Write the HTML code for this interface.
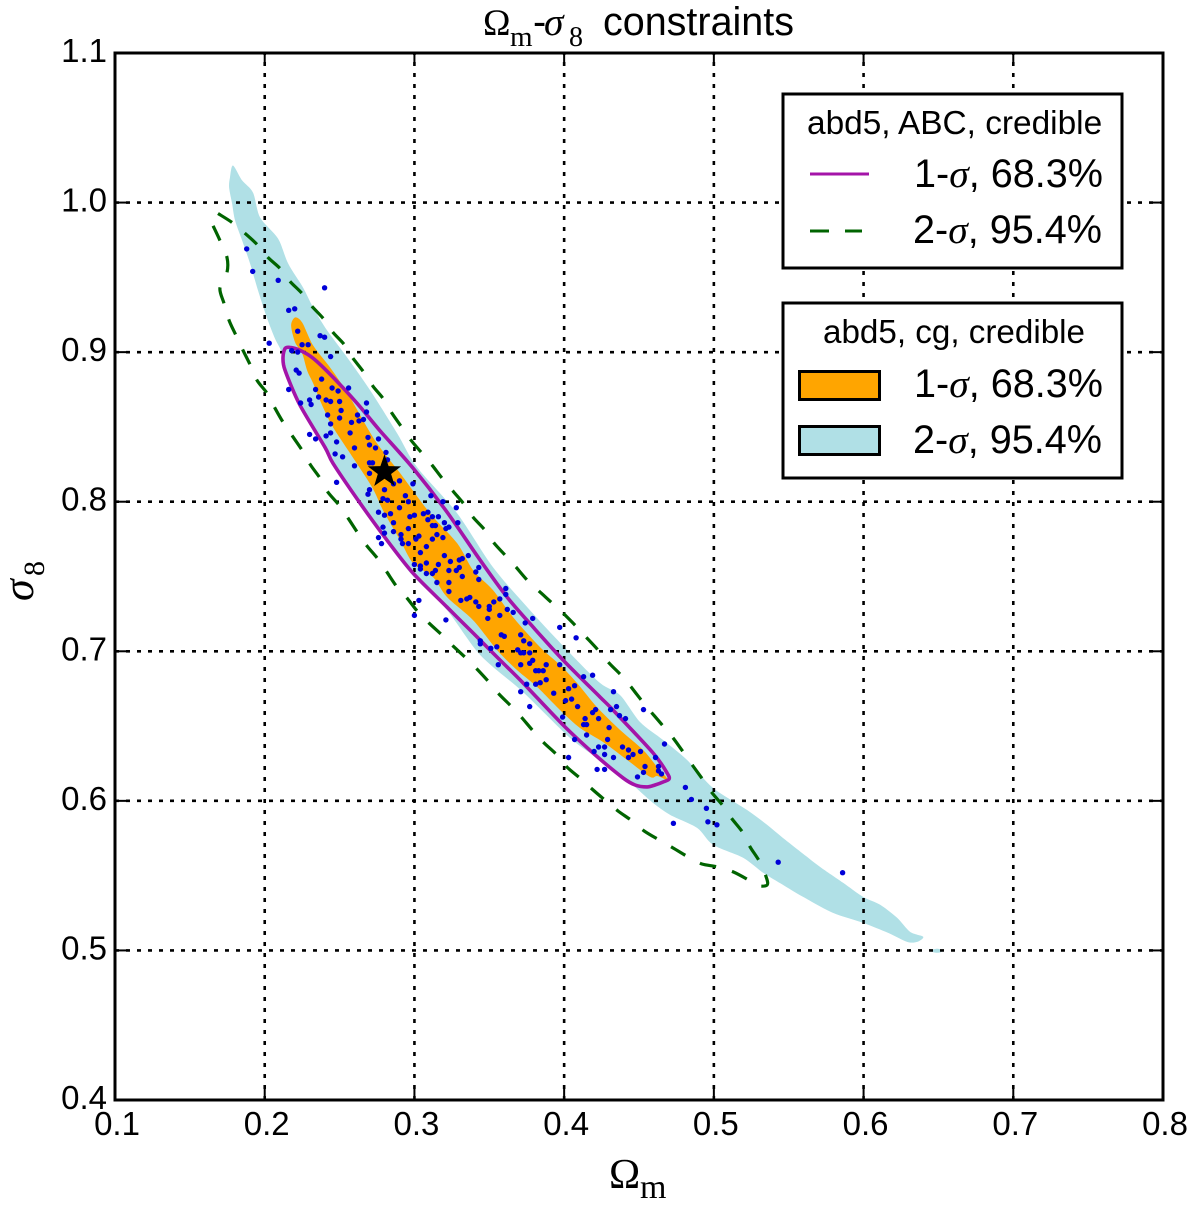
<!DOCTYPE html>
<html lang="en">
<head>
<meta charset="utf-8">
<title>Omega_m - sigma_8 constraints</title>
<style>
html,body{margin:0;padding:0;background:#fff;}
svg{display:block;}
text{font-family:"Liberation Sans",Arial,sans-serif;fill:#000;}
.math{font-family:"Liberation Serif",serif;}
.sig{font-family:"Liberation Serif",serif;font-style:italic;}
</style>
</head>
<body>
<svg id="chart" xmlns="http://www.w3.org/2000/svg" width="1200" height="1206" viewBox="0 0 1200 1206">
  <rect x="0" y="0" width="1200" height="1206" fill="#fff"/>
  <g id="marks"></g>
  <rect x="115" y="53" width="1048" height="1047" fill="none" stroke="#000" stroke-width="3"/>
  <g id="axes"></g>

  <text y="35" font-size="39.5"><tspan class="math" x="483" font-size="37">Ω</tspan><tspan class="math" x="510" y="46" font-size="29">m</tspan><tspan x="533" y="35">-</tspan><tspan class="sig" x="544" y="35">σ</tspan><tspan class="math" x="569" y="46" font-size="28">8</tspan><tspan x="603" y="35">constraints</tspan></text>
  <text y="1188" font-size="42"><tspan class="math" x="609">Ω</tspan><tspan class="math" x="640" y="1198" font-size="34">m</tspan></text>
  <text transform="translate(33 601) rotate(-90)" font-size="44"><tspan class="sig" x="0" y="0">σ</tspan><tspan class="math" x="25" y="11" font-size="30">8</tspan></text>

  <g>
    <rect x="783" y="94" width="339" height="174" fill="#fff" stroke="#000" stroke-width="3"/>
    <text x="807" y="134" font-size="33.4">abd5, ABC, credible</text>
    <line x1="810" y1="174" x2="869" y2="174" stroke="#a414a8" stroke-width="3"/>
    <text x="914" y="187" font-size="39.6">1-<tspan class="sig">σ</tspan>, 68.3%</text>
    <line x1="810" y1="231" x2="862" y2="231" stroke="#006400" stroke-width="3" stroke-dasharray="19 16"/>
    <text x="913" y="243" font-size="39.6">2-<tspan class="sig">σ</tspan>, 95.4%</text>
  </g>
  <g>
    <rect x="783" y="303" width="339" height="175" fill="#fff" stroke="#000" stroke-width="3"/>
    <text x="823" y="343" font-size="33.2">abd5, cg, credible</text>
    <rect x="799.5" y="371.5" width="80" height="28" fill="#ffa500" stroke="#000" stroke-width="3"/>
    <text x="914" y="397" font-size="39.6">1-<tspan class="sig">σ</tspan>, 68.3%</text>
    <rect x="799.5" y="426.5" width="80" height="28" fill="#b0e0e6" stroke="#000" stroke-width="3"/>
    <text x="913" y="453" font-size="39.6">2-<tspan class="sig">σ</tspan>, 95.4%</text>
  </g>
</svg>
<script>
const xTicks = [0.1,0.2,0.3,0.4,0.5,0.6,0.7,0.8];
const yTicks = [0.4,0.5,0.6,0.7,0.8,0.9,1.0,1.1];
const fiducial = [0.28,0.82];

const cg2SigmaContour = [[.1788,1.0248],[.1849,1.0148],[.1922,1.0067],[.1969,.99],[.2089,.976],[.2156,.9593],[.2256,.9432],[.2323,.9299],[.2416,.9146],[.255,.8965],[.2704,.8745],[.2884,.8458],[.3018,.823],[.3285,.7923],[.3525,.7562],[.3772,.7275],[.402,.7008],[.424,.6788],[.4374,.6707],[.4507,.6527],[.4661,.6407],[.4821,.6273],[.4995,.6086],[.5222,.5939],[.5356,.5839],[.5462,.5752],[.5623,.5625],[.571,.5558],[.5863,.5452],[.5997,.5358],[.6111,.5305],[.6224,.5218],[.6311,.5124],[.6398,.5091],[.6358,.5057],[.6291,.5057],[.6164,.5117],[.5997,.5184],[.5796,.5251],[.5596,.5358],[.5462,.5438],[.5329,.5519],[.5195,.5619],[.4995,.5706],[.4888,.5819],[.4708,.5906],[.4594,.5986],[.4441,.612],[.424,.6273],[.404,.642],[.3726,.6727],[.3439,.6975],[.3218,.7275],[.2991,.7502],[.2817,.7723],[.2637,.7977],[.2456,.8244],[.2329,.8478],[.2236,.8631],[.217,.8792],[.2116,.8992],[.2068,.9092],[.2014,.9232],[.1955,.9413],[.1902,.9593],[.1849,.9747],[.1802,.988],[.1782,.9994],[.1762,1.0101],[.1768,1.0168]];
const cg2SigmaIsland = [[.6444,.4998],[.6491,.5011],[.6538,.4998],[.6491,.4984]];
const cg1SigmaContour = [[.2203,.9232],[.225,.9199],[.2323,.9045],[.2436,.8898],[.255,.8731],[.2736,.8411],[.2904,.8191],[.3104,.7923],[.3285,.7723],[.3392,.7542],[.3525,.7409],[.3659,.7228],[.3839,.7028],[.3973,.6908],[.4086,.6788],[.4219,.6627],[.4374,.6474],[.4527,.6341],[.4621,.6227],[.4694,.6141],[.4621,.6166],[.4574,.616],[.4421,.6273],[.4261,.6393],[.4106,.6487],[.3973,.6607],[.382,.6761],[.3686,.6874],[.3552,.7008],[.3392,.7208],[.3218,.7362],[.3124,.7496],[.2991,.7589],[.2904,.7743],[.279,.7943],[.2717,.8097],[.257,.8324],[.2456,.8498],[.2389,.8632],[.2323,.8792],[.2283,.8878],[.225,.8992],[.2203,.9065],[.2176,.9179]];
const abc1SigmaContour = [[.2169,.9032],[.2236,.9012],[.2323,.8959],[.2456,.8832],[.2617,.8658],[.2768,.8477],[.2991,.8224],[.3218,.793],[.3439,.7609],[.3619,.7362],[.3793,.7161],[.3993,.6941],[.424,.6694],[.4327,.6607],[.4594,.632],[.4688,.6186],[.4701,.6146],[.4661,.6126],[.4607,.6106],[.4554,.6093],[.4474,.6106],[.4394,.6153],[.4193,.632],[.3993,.6507],[.3726,.6788],[.3572,.6941],[.3392,.7122],[.3218,.7295],[.2991,.7522],[.2817,.7743],[.2637,.799],[.2456,.8257],[.2403,.8364],[.2236,.8645],[.2136,.8878],[.2122,.8965],[.2136,.9025]];
const abc2SigmaContour = [[.1688,.9927],[.1782,.9867],[.1869,.9794],[.1949,.972],[.2022,.9633],[.2102,.956],[.2169,.9473],[.2249,.9393],[.2316,.9306],[.239,.9226],[.2456,.9132],[.253,.9052],[.259,.8959],[.2657,.8872],[.2724,.8771],[.279,.8691],[.285,.8591],[.2911,.8504],[.2977,.8411],[.3051,.8324],[.3118,.8244],[.3185,.8157],[.3258,.807],[.3332,.7983],[.3392,.7896],[.3472,.7809],[.3532,.7723],[.3612,.7636],[.3679,.7562],[.3759,.7469],[.3833,.7402],[.392,.7322],[.3993,.7255],[.4086,.7161],[.4153,.7088],[.4227,.7008],[.43,.6921],[.438,.6841],[.4447,.6761],[.4521,.6667],[.4587,.6587],[.4661,.65],[.4728,.642],[.4795,.6327],[.4861,.6233],[.4928,.614],[.4988,.6053],[.5062,.5966],[.5122,.5879],[.5195,.5786],[.5242,.5692],[.5302,.5599],[.5349,.5492],[.5356,.5438],[.5296,.5432],[.5229,.5472],[.5129,.5525],[.5028,.5558],[.4921,.5578],[.4828,.5625],[.4728,.5685],[.4634,.5739],[.4534,.5799],[.4454,.5866],[.436,.5932],[.428,.5999],[.4186,.6079],[.4113,.6146],[.4019,.6226],[.3953,.6306],[.3866,.6387],[.3799,.646],[.3719,.6554],[.3652,.6627],[.3565,.6714],[.3498,.6794],[.3418,.6881],[.3345,.6954],[.3258,.7035],[.3185,.7108],[.3098,.7188],[.3024,.7262],[.2951,.7355],[.2884,.7429],[.2817,.7529],[.2757,.7616],[.2684,.7703],[.2623,.7789],[.2557,.789],[.2497,.7977],[.2423,.8063],[.237,.8157],[.2303,.825],[.225,.8344],[.219,.8431],[.2123,.8531],[.2069,.8625],[.2016,.8725],[.1949,.8811],[.1902,.8918],[.1855,.9012],[.1808,.9112],[.1762,.9212],[.1728,.9326],[.1701,.9426],[.1748,.9533],[.1748,.9633],[.1701,.9747],[.1655,.9845]];
const samples = [[.188,.969],[.192,.954],[.209,.948],[.240,.943],[.216,.928],[.220,.929],[.222,.914],[.237,.911],[.240,.910],[.203,.906],[.225,.905],[.229,.905],[.218,.901],[.222,.900],[.244,.897],[.221,.888],[.223,.886],[.238,.882],[.216,.875],[.234,.875],[.245,.876],[.249,.874],[.256,.876],[.236,.870],[.230,.868],[.231,.865],[.224,.866],[.241,.868],[.244,.867],[.250,.867],[.268,.866],[.251,.861],[.242,.858],[.262,.858],[.268,.860],[.250,.856],[.266,.855],[.263,.854],[.258,.853],[.244,.852],[.230,.845],[.234,.842],[.241,.844],[.244,.846],[.257,.846],[.269,.843],[.276,.842],[.248,.840],[.270,.838],[.274,.836],[.260,.836],[.247,.832],[.252,.830],[.260,.824],[.270,.826],[.272,.826],[.281,.833],[.282,.828],[.270,.819],[.290,.814],[.248,.813],[.299,.812],[.286,.812],[.280,.808],[.270,.808],[.269,.805],[.294,.804],[.311,.804],[.279,.802],[.282,.801],[.296,.800],[.319,.800],[.290,.796],[.328,.796],[.276,.793],[.280,.791],[.284,.792],[.297,.790],[.300,.791],[.306,.792],[.309,.793],[.309,.788],[.312,.790],[.316,.790],[.329,.786],[.320,.786],[.323,.783],[.321,.782],[.314,.784],[.312,.784],[.286,.786],[.279,.783],[.296,.782],[.286,.780],[.280,.779],[.276,.776],[.278,.772],[.291,.778],[.291,.775],[.303,.777],[.301,.775],[.315,.778],[.312,.775],[.319,.776],[.296,.772],[.292,.772],[.308,.770],[.304,.766],[.320,.764],[.336,.764],[.332,.762],[.330,.761],[.324,.760],[.316,.758],[.330,.756],[.308,.759],[.300,.758],[.304,.757],[.304,.755],[.343,.756],[.341,.753],[.328,.754],[.323,.754],[.314,.754],[.308,.752],[.312,.752],[.332,.750],[.343,.748],[.315,.746],[.323,.746],[.323,.740],[.361,.742],[.361,.738],[.357,.735],[.337,.736],[.335,.735],[.331,.734],[.341,.733],[.303,.734],[.353,.733],[.343,.730],[.350,.730],[.350,.728],[.362,.728],[.366,.726],[.357,.724],[.300,.724],[.349,.722],[.321,.721],[.379,.722],[.374,.719],[.397,.716],[.358,.711],[.360,.710],[.371,.711],[.408,.709],[.373,.707],[.377,.705],[.344,.707],[.344,.705],[.369,.701],[.371,.699],[.373,.699],[.377,.699],[.351,.702],[.355,.703],[.379,.694],[.377,.692],[.371,.691],[.388,.691],[.356,.691],[.397,.691],[.381,.687],[.383,.687],[.386,.687],[.413,.683],[.419,.684],[.388,.681],[.384,.679],[.381,.678],[.375,.678],[.407,.677],[.403,.675],[.393,.672],[.371,.673],[.433,.673],[.405,.668],[.401,.667],[.409,.663],[.453,.661],[.377,.663],[.431,.661],[.435,.663],[.437,.657],[.441,.655],[.421,.661],[.419,.659],[.423,.655],[.399,.656],[.414,.655],[.413,.651],[.415,.651],[.430,.649],[.415,.644],[.407,.641],[.429,.641],[.467,.638],[.439,.636],[.423,.636],[.427,.636],[.420,.633],[.443,.634],[.451,.633],[.446,.631],[.427,.631],[.443,.629],[.403,.629],[.433,.629],[.461,.629],[.463,.623],[.454,.623],[.422,.621],[.427,.621],[.463,.620],[.465,.618],[.453,.619],[.449,.616],[.481,.609],[.485,.601],[.495,.595],[.496,.586],[.502,.584],[.473,.585],[.543,.559],[.586,.552]];

const NS = 'http://www.w3.org/2000/svg';
const X_MIN = 0.1, X_MAX = 0.8, Y_MIN = 0.4, Y_MAX = 1.1;
const LEFT = 115, RIGHT = 1163, TOP = 53, BOTTOM = 1100;
function xScale(v){ return LEFT + (v - X_MIN) / (X_MAX - X_MIN) * (RIGHT - LEFT); }
function yScale(v){ return BOTTOM - (v - Y_MIN) / (Y_MAX - Y_MIN) * (BOTTOM - TOP); }
function smoothPath(pairs, closed){
  const pts = pairs.map(p => [xScale(p[0]), yScale(p[1])]);
  const n = pts.length;
  const at = i => closed ? pts[(i + n) % n] : pts[Math.max(0, Math.min(n - 1, i))];
  const k = 1 / 7;
  let d = 'M' + pts[0][0].toFixed(1) + ' ' + pts[0][1].toFixed(1);
  const last = closed ? n : n - 1;
  for (let i = 0; i < last; i++) {
    const p0 = at(i - 1), p1 = at(i), p2 = at(i + 1), p3 = at(i + 2);
    const c1x = p1[0] + (p2[0] - p0[0]) * k, c1y = p1[1] + (p2[1] - p0[1]) * k;
    const c2x = p2[0] - (p3[0] - p1[0]) * k, c2y = p2[1] - (p3[1] - p1[1]) * k;
    d += 'C' + c1x.toFixed(1) + ' ' + c1y.toFixed(1) + ' ' + c2x.toFixed(1) + ' ' + c2y.toFixed(1) + ' ' + p2[0].toFixed(1) + ' ' + p2[1].toFixed(1);
  }
  return d + (closed ? 'Z' : '');
}
function make(parent, tag, attrs, text){
  const el = document.createElementNS(NS, tag);
  for (const k in attrs) el.setAttribute(k, attrs[k]);
  if (text !== undefined) el.textContent = text;
  parent.appendChild(el);
  return el;
}

const marks = document.getElementById('marks');
const axes = document.getElementById('axes');

// filled credible regions
const fillOuter = make(marks, 'path', {d: smoothPath(cg2SigmaContour, true), fill: '#b0e0e6'});


const fillIsland = make(marks, 'path', {d: smoothPath(cg2SigmaIsland, true), fill: '#b0e0e6'});


const fillInner = make(marks, 'path', {d: smoothPath(cg1SigmaContour, true), fill: '#ffa500'});



// dotted grid on top of the fills
xTicks.slice(1, -1).forEach(v => {
  const g = make(marks, 'line', {x1: xScale(v), x2: xScale(v), y1: BOTTOM, y2: TOP, stroke: '#000', 'stroke-width': 2.6, 'stroke-dasharray': '4 7'});
  
  
});
yTicks.slice(1, -1).forEach(v => {
  const g = make(marks, 'line', {x1: LEFT, x2: RIGHT, y1: yScale(v), y2: yScale(v), stroke: '#000', 'stroke-width': 2.6, 'stroke-dasharray': '4 7'});
  
  
});

// ABC contours
const abcOuter = make(marks, 'path', {d: smoothPath(abc2SigmaContour, false), fill: 'none', stroke: '#006400', 'stroke-width': 3.2});


const dashCount = Math.floor(abc2SigmaContour.length / 2);
const dashLength = abcOuter.getTotalLength() / (2 * dashCount - 1);
abcOuter.setAttribute('stroke-dasharray', dashLength.toFixed(3) + ' ' + dashLength.toFixed(3));

const abcInner = make(marks, 'path', {d: smoothPath(abc1SigmaContour, true), fill: 'none', stroke: '#a414a8', 'stroke-width': 3.6, 'stroke-linejoin': 'round'});



// posterior samples
samples.forEach(p => {
  const dot = make(marks, 'circle', {cx: xScale(p[0]).toFixed(1), cy: yScale(p[1]).toFixed(1), r: 2.7, fill: '#0000d8'});
  
  
});

// fiducial star
const starPoints = [];
for (let i = 0; i < 10; i++) {
  const r = i % 2 === 0 ? 17.5 : 7;
  const a = -Math.PI / 2 + i * Math.PI / 5;
  starPoints.push((xScale(fiducial[0]) + r * Math.cos(a)).toFixed(1) + ',' + (yScale(fiducial[1]) + r * Math.sin(a)).toFixed(1));
}
const star = make(marks, 'polygon', {points: starPoints.join(' '), fill: '#000'});



// ticks and tick labels
xTicks.forEach(v => {
  const px = xScale(v);
  if (v > X_MIN && v < X_MAX) {
    const tb = make(axes, 'line', {x1: px, x2: px, y1: BOTTOM, y2: BOTTOM - 13, stroke: '#000', 'stroke-width': 2});
    
    
    const tt = make(axes, 'line', {x1: px, x2: px, y1: TOP, y2: TOP + 13, stroke: '#000', 'stroke-width': 2});
    
    
  }
  const label = make(axes, 'text', {x: px + 2, y: 1135, 'font-size': 33, 'text-anchor': 'middle'}, v.toFixed(1));
  
  
});
yTicks.forEach(v => {
  const py = yScale(v);
  if (v > Y_MIN && v < Y_MAX) {
    const tl = make(axes, 'line', {x1: LEFT, x2: LEFT + 13, y1: py, y2: py, stroke: '#000', 'stroke-width': 2});
    
    
    const tr = make(axes, 'line', {x1: RIGHT, x2: RIGHT - 13, y1: py, y2: py, stroke: '#000', 'stroke-width': 2});
    
    
  }
  const label = make(axes, 'text', {x: 107, y: py + 9, 'font-size': 33, 'text-anchor': 'end'}, v.toFixed(1));
  
  
});
</script>
</body>
</html>
